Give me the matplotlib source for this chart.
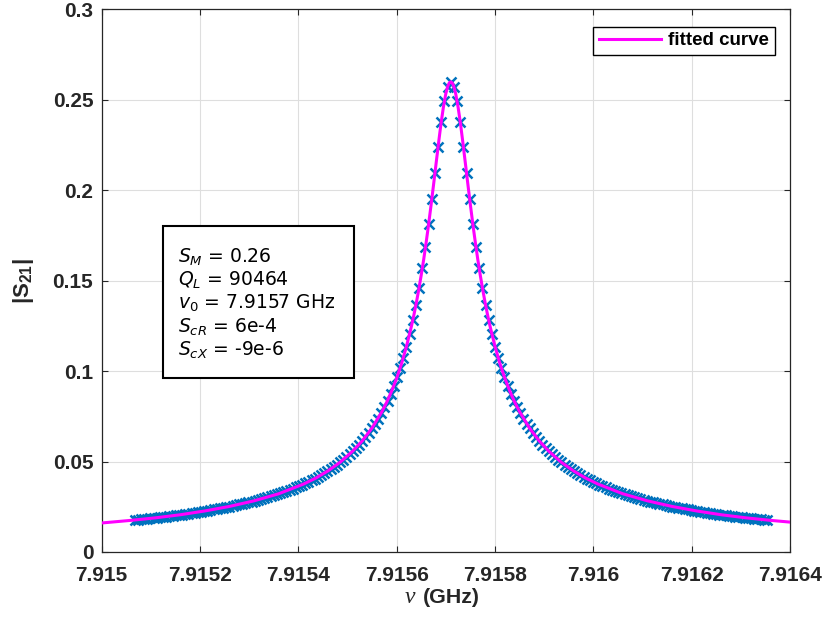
import matplotlib
matplotlib.use("Agg")
import matplotlib.pyplot as plt
import numpy as np
from matplotlib.patches import Rectangle

# Resonance sweep (symmetric about the peak, so only
# the upper half is listed and then mirrored).
CENTER_GHZ = 7.91571
HALF_OFFSET_KHZ = [
    0.0, 6.4, 12.9, 19.3, 25.7, 32.2, 38.6, 45.0, 51.4, 57.9,
    64.3, 70.7, 77.2, 83.6, 90.0, 96.5, 102.9, 109.3, 115.7, 122.2,
    128.6, 135.0, 141.5, 147.9, 154.3, 160.8, 167.2, 173.6, 180.0, 186.5,
    192.9, 199.3, 205.8, 212.2, 218.6, 225.1, 231.5, 237.9, 244.3, 250.8,
    257.2, 263.6, 270.1, 276.5, 282.9, 289.4, 295.8, 302.2, 308.6, 315.1,
    321.5, 327.9, 334.4, 340.8, 347.2, 353.7, 360.1, 366.5, 372.9, 379.4,
    385.8, 392.2, 398.7, 405.1, 411.5, 418.0, 424.4, 430.8, 437.2, 443.7,
    450.1, 456.5, 463.0, 469.4, 475.8, 482.3, 488.7, 495.1, 501.5, 508.0,
    514.4, 520.8, 527.3, 533.7, 540.1, 546.6, 553.0, 559.4, 565.8, 572.3,
    578.7, 585.1, 591.6, 598.0, 604.4, 610.9, 617.3, 623.7, 630.1, 636.6,
    643.0,
]
HALF_S21 = [
    0.2600, 0.2572, 0.2494, 0.2379, 0.2241, 0.2095, 0.1950, 0.1812, 0.1684, 0.1568,
    0.1462, 0.1368, 0.1282, 0.1205, 0.1136, 0.1074, 0.1017, 0.0966, 0.0919, 0.0876,
    0.0837, 0.0801, 0.0768, 0.0737, 0.0709, 0.0683, 0.0658, 0.0635, 0.0614, 0.0594,
    0.0575, 0.0557, 0.0541, 0.0525, 0.0510, 0.0496, 0.0483, 0.0470, 0.0458, 0.0447,
    0.0436, 0.0426, 0.0416, 0.0406, 0.0397, 0.0389, 0.0380, 0.0372, 0.0365, 0.0358,
    0.0351, 0.0344, 0.0337, 0.0331, 0.0325, 0.0319, 0.0314, 0.0308, 0.0303, 0.0298,
    0.0293, 0.0288, 0.0284, 0.0279, 0.0275, 0.0271, 0.0267, 0.0263, 0.0259, 0.0255,
    0.0251, 0.0248, 0.0245, 0.0241, 0.0238, 0.0235, 0.0232, 0.0229, 0.0226, 0.0223,
    0.0220, 0.0218, 0.0215, 0.0212, 0.0210, 0.0207, 0.0205, 0.0203, 0.0200, 0.0198,
    0.0196, 0.0194, 0.0192, 0.0190, 0.0188, 0.0186, 0.0184, 0.0182, 0.0180, 0.0178,
    0.0176,
]
# fitted curve, also mirrored
FIT_OFFSET_KHZ = [0, 3, 6, 10, 15, 20, 25, 30, 35, 40, 45, 50, 55, 60, 65, 70, 75, 80,
                  90, 100, 110, 120, 130, 140, 160, 180, 200, 225, 250, 275, 300, 350,
                  400, 450, 500, 550, 600, 650, 720]
FIT_S21 = [0.2600, 0.2594, 0.2576, 0.2535, 0.2459, 0.2365, 0.2257, 0.2144, 0.2030, 0.1919,
           0.1812, 0.1712, 0.1618, 0.1532, 0.1452, 0.1378, 0.1310, 0.1248, 0.1137, 0.1042,
           0.0961, 0.0891, 0.0829, 0.0776, 0.0686, 0.0614, 0.0556, 0.0496, 0.0448, 0.0408,
           0.0375, 0.0322, 0.0283, 0.0252, 0.0227, 0.0206, 0.0189, 0.0175, 0.0158]

XTICKS = [7.915, 7.9152, 7.9154, 7.9156, 7.9158, 7.916, 7.9162, 7.9164]
YTICKS = [0, 0.05, 0.1, 0.15, 0.2, 0.25, 0.3]
PARAM_LINES = [r"$S_M$ = 0.26", r"$Q_L$ = 90464", r"$v_{\mathit{0}}$ = 7.9157 GHz",
               r"$S_{cR}$ = 6e-4", r"$S_{cX}$ = -9e-6"]

BLUE, MAGENTA, AXIS = "#0072BD", "#FF00FF", "#262626"

plt.rcParams.update({
    "font.family": "Liberation Sans",
    "mathtext.fontset": "custom",
    "mathtext.rm": "DejaVu Sans",
    "mathtext.it": "DejaVu Sans:italic",
    "mathtext.bf": "Liberation Sans:bold",
})


def mirror(half, sign):
    half = np.asarray(half, dtype=float)
    return np.concatenate([sign * half[::-1], half[1:]])


freq = CENTER_GHZ + mirror(HALF_OFFSET_KHZ, -1) * 1e-6
s21 = mirror(HALF_S21, 1)
fit_f = CENTER_GHZ + mirror(FIT_OFFSET_KHZ, -1) * 1e-6
fit_s = mirror(FIT_S21, 1)

fig = plt.figure(figsize=(8.24, 6.24), dpi=100)
ax = fig.add_axes([0.1234, 0.1154, 0.8353, 0.8694])

ax.plot(freq, s21, ls="none", marker="x", ms=6.5, mew=1.8, color=BLUE, zorder=3)
ax.plot(fit_f, fit_s, color=MAGENTA, lw=2.2, label="fitted curve", zorder=4)

ax.set_xlim(7.915, 7.9164)
ax.set_ylim(0, 0.3)
ax.set_xticks(XTICKS, [f"{t:g}" for t in XTICKS])
ax.set_yticks(YTICKS, [f"{t:g}" for t in YTICKS])
plt.setp(ax.get_xticklabels() + ax.get_yticklabels(), fontweight="bold", fontsize=15,
         color=AXIS)
ax.tick_params(direction="in", length=4.5, width=0.8, top=True, right=True, color=AXIS)
ax.tick_params(axis="x", pad=10)
ax.tick_params(axis="y", pad=6)
ax.grid(True, color="#dedede", lw=0.8)
ax.set_axisbelow(True)
for s in ax.spines.values():
    s.set_color(AXIS)
    s.set_linewidth(0.9)

ax.set_ylabel(r"$\mathbf{|S_{21}|}$", fontsize=16, color=AXIS, labelpad=12)
ax.text(0.4550, -0.0935, "\u03bd", transform=ax.transAxes, ha="right", va="baseline",
        fontsize=17, family="Liberation Serif", style="italic", color=AXIS)
ax.text(0.4668, -0.0935, "(GHz)", transform=ax.transAxes, ha="left", va="baseline",
        fontsize=15.4, fontweight="bold", color=AXIS)

leg = ax.legend(loc="upper right", bbox_to_anchor=(0.9782, 0.9683), borderaxespad=0,
                fancybox=False, edgecolor="black", framealpha=1,
                prop={"weight": "bold", "size": 13.5}, handlelength=3.3,
                handletextpad=0.4, borderpad=0.3)
leg.get_frame().set_linewidth(1.0)

# parameter box
ax.add_patch(Rectangle((0.0886, 0.321), 0.278, 0.279, transform=ax.transAxes,
                       fc="white", ec="black", lw=1.5, zorder=5))
for i, line in enumerate(PARAM_LINES):
    ax.text(0.1109, 0.5338 - i * 0.0430, line, transform=ax.transAxes, ha="left",
            va="baseline", fontsize=13.5, family="DejaVu Sans", color="black", zorder=6)

fig.savefig("out.png", dpi=100, facecolor="white")
